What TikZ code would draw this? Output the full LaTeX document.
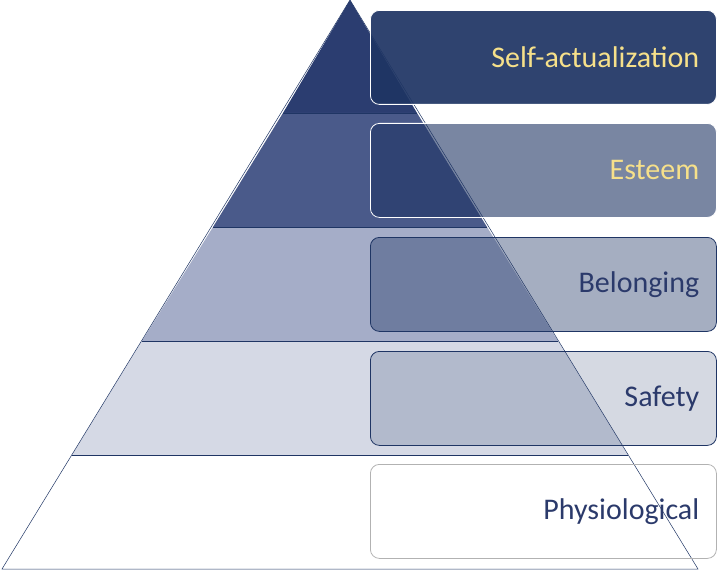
\documentclass[tikz,border=0pt]{standalone}
\usepackage{fontspec}
\setmainfont{Carlito}
\definecolor{nv}{HTML}{1F3564}
\definecolor{tx}{HTML}{2B3A6B}
\definecolor{yl}{HTML}{F6E08A}
\definecolor{l1}{HTML}{2B3D70}
\definecolor{l2}{HTML}{4A5A8A}
\definecolor{l3}{HTML}{A5ADC8}
\definecolor{l4}{HTML}{D5D9E5}
\begin{document}
\begin{tikzpicture}[x=1pt,y=-1pt,
 lay/.style={draw=nv,line width=0.5pt},
 box/.style={rounded corners=9pt,line width=0.8pt,fill=nv,minimum width=346pt,minimum height=94pt,anchor=north west,inner sep=0pt},
 lbl/.style={font=\fontsize{30}{30}\selectfont,anchor=east}]
\useasboundingbox (0,0) rectangle (722,572);
\coordinate (ap) at (350,0);
\fill[l1] (ap) -- (283,113) -- (417,113) -- cycle;
\fill[l2] (283,113) -- (213,227) -- (487,227) -- (417,113) -- cycle;
\fill[l3] (213,227) -- (142,341) -- (558,341) -- (487,227) -- cycle;
\fill[l4] (142,341) -- (72,455) -- (628,455) -- (558,341) -- cycle;
\draw[lay] (283,113) -- (417,113) (213,227) -- (487,227) (142,341) -- (558,341) (72,455) -- (628,455);
\draw[lay] (ap) -- (2,569) -- (698,569) -- cycle;
\node[box,draw=white,fill opacity=0.93] (b1) at (370,10) {};
\node[box,draw=white,fill opacity=0.6] (b2) at (370,123) {};
\node[box,draw=nv,fill opacity=0.4] (b3) at (370,237) {};
\node[box,draw=nv,fill opacity=0.19] (b4) at (370,351) {};
\node[box,draw=gray!60,fill=white,fill opacity=0] (b5) at (370,464) {};
\node[lbl,text=yl] at ([xshift=-14pt]b1.east) {Self-actualization};
\node[lbl,text=yl] at ([xshift=-14pt]b2.east) {Esteem};
\node[lbl,text=tx] at ([xshift=-14pt]b3.east) {Belonging};
\node[lbl,text=tx] at ([xshift=-14pt]b4.east) {Safety};
\node[lbl,text=tx] at ([xshift=-14pt]b5.east) {Physiological};
\end{tikzpicture}
\end{document}
